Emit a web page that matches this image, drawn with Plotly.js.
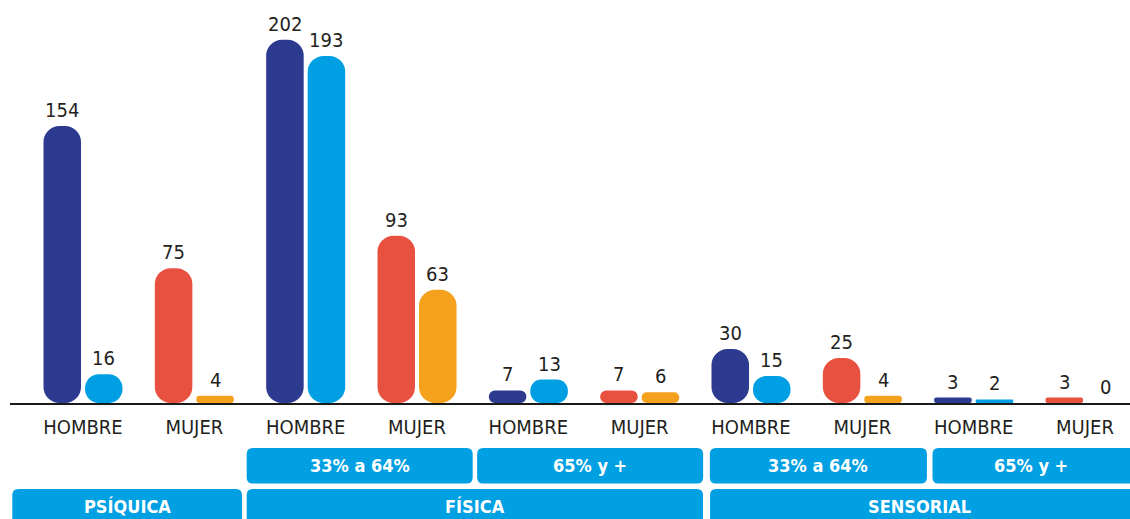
<!DOCTYPE html>
<html>
<head>
<meta charset="utf-8">
<script src="https://cdn.plot.ly/plotly-3.0.1.min.js"></script>
<style>
  html, body { margin: 0; padding: 0; background: #ffffff; }
  #chart { width: 1130px; height: 519px; }
</style>
</head>
<body>
<div id="chart"></div>
<script>
// ---- data ----
const groupLabels = ['HOMBRE', 'MUJER', 'HOMBRE', 'MUJER', 'HOMBRE', 'MUJER', 'HOMBRE', 'MUJER', 'HOMBRE', 'MUJER'];
const firstValues = [154, 75, 202, 93, 7, 7, 30, 25, 3, 3];
const secondValues = [16, 4, 193, 63, 13, 6, 15, 4, 2, 0];
const degreeLabels = ['33% a 64%', '65% y +', '33% a 64%', '65% y +'];
const typeLabels = ['PSÍQUICA', 'FÍSICA', 'SENSORIAL'];

// ---- style / layout config ----
const colors = {
  HOMBRE: ['#2c3a8f', '#009fe3'],
  MUJER: ['#e8503f', '#f4a11d']
};
const boxColor = '#00a0e3';
const fontFamily = '"Liberation Sans Narrow", "DejaVu Sans Condensed", "Liberation Sans", sans-serif';
const barWidth = 0.337;
const centerShift = 0.1864;
const cornerR = 16;
const yMax = 224.1;

// spans for the category boxes (in x-axis units)
const degreeSpans = [[1.47, 3.50], [3.54, 5.57], [5.63, 7.58], [7.63, 9.9]];
const typeSpans = [[-0.635, 1.428], [1.47, 5.569], [5.632, 9.9]];

const xs = groupLabels.map((_, i) => i);

// explicit base => both ends of each bar get rounded corners
function barTrace(values, which) {
  const cols = groupLabels.map(g => colors[g][which]);
  const off = which === 0 ? -centerShift - barWidth / 2 : centerShift - barWidth / 2;
  return {
    type: 'bar', x: xs,
    base: values.map(() => 0),
    y: values,
    width: barWidth, offset: off,
    marker: { color: cols, cornerradius: cornerR, line: { width: 0 } },
    hoverinfo: 'skip', showlegend: false
  };
}

const traces = [barTrace(firstValues, 0), barTrace(secondValues, 1)];

const annotations = [];
xs.forEach(i => {
  [[firstValues[i], -centerShift], [secondValues[i], centerShift]].forEach(([v, s]) => {
    annotations.push({
      x: i + s, y: v, xref: 'x', yref: 'y',
      text: String(v), showarrow: false,
      yanchor: 'bottom', xanchor: 'center', yshift: 2,
      font: { family: fontFamily, size: 20, color: '#231f20' }
    });
  });
});

// rounded boxes
const plotH = 403;
const rxPx = 6, ryPx = 6;
const pxPerUnit = 111.33;
function py(p) { return (plotH - p) / plotH; } // pixel -> paper y
function roundedPath(x0, x1, y0, y1) {
  const rx = rxPx / pxPerUnit, ry = ryPx / plotH;
  return `M ${x0 + rx},${y1} L ${x1 - rx},${y1} Q ${x1},${y1} ${x1},${y1 - ry} ` +
         `L ${x1},${y0 + ry} Q ${x1},${y0} ${x1 - rx},${y0} L ${x0 + rx},${y0} ` +
         `Q ${x0},${y0} ${x0},${y0 + ry} L ${x0},${y1 - ry} Q ${x0},${y1} ${x0 + rx},${y1} Z`;
}
const shapes = [];
degreeLabels.forEach((t, k) => {
  const [a, b] = degreeSpans[k];
  shapes.push({ type: 'path', xref: 'x', yref: 'paper', path: roundedPath(a, b, py(483.5), py(448)),
    fillcolor: boxColor, line: { width: 0 }, layer: 'above' });
  annotations.push({ x: (a + Math.min(b, 9.4)) / 2, y: py(465.5), xref: 'x', yref: 'paper', text: '<b>' + t + '</b>',
    showarrow: false, xanchor: 'center', yanchor: 'middle',
    font: { family: fontFamily, size: 18, color: '#ffffff' } });
});
typeLabels.forEach((t, k) => {
  const [a, b] = typeSpans[k];
  shapes.push({ type: 'path', xref: 'x', yref: 'paper', path: roundedPath(a, b, py(540), py(489)),
    fillcolor: boxColor, line: { width: 0 }, layer: 'above' });
  annotations.push({ x: (a + Math.min(b, 9.4)) / 2, y: py(519), xref: 'x', yref: 'paper', text: '<b>' + t + '</b>',
    showarrow: false, xanchor: 'center', yanchor: 'bottom',
    font: { family: fontFamily, size: 18, color: '#ffffff' } });
});

const layout = {
  width: 1130, height: 519,
  margin: { l: 10, r: 0, t: 0, b: 116, pad: 0 },
  paper_bgcolor: '#ffffff', plot_bgcolor: '#ffffff',
  barmode: 'overlay',
  showlegend: false,
  xaxis: {
    type: 'linear', range: [-0.6557, 9.404],
    tickvals: xs, ticktext: groupLabels,
    showgrid: false, zeroline: false,
    showline: true, linecolor: '#1a1a1a', linewidth: 1.5,
    ticks: '', ticklabelstandoff: 5,
    tickfont: { family: fontFamily, size: 20, color: '#231f20' },
    fixedrange: true
  },
  yaxis: {
    range: [0, yMax], visible: false, showgrid: false, zeroline: false, fixedrange: true
  },
  shapes: shapes,
  annotations: annotations
};

Plotly.newPlot('chart', traces, layout, { displayModeBar: false, staticPlot: true });
</script>
</body>
</html>
